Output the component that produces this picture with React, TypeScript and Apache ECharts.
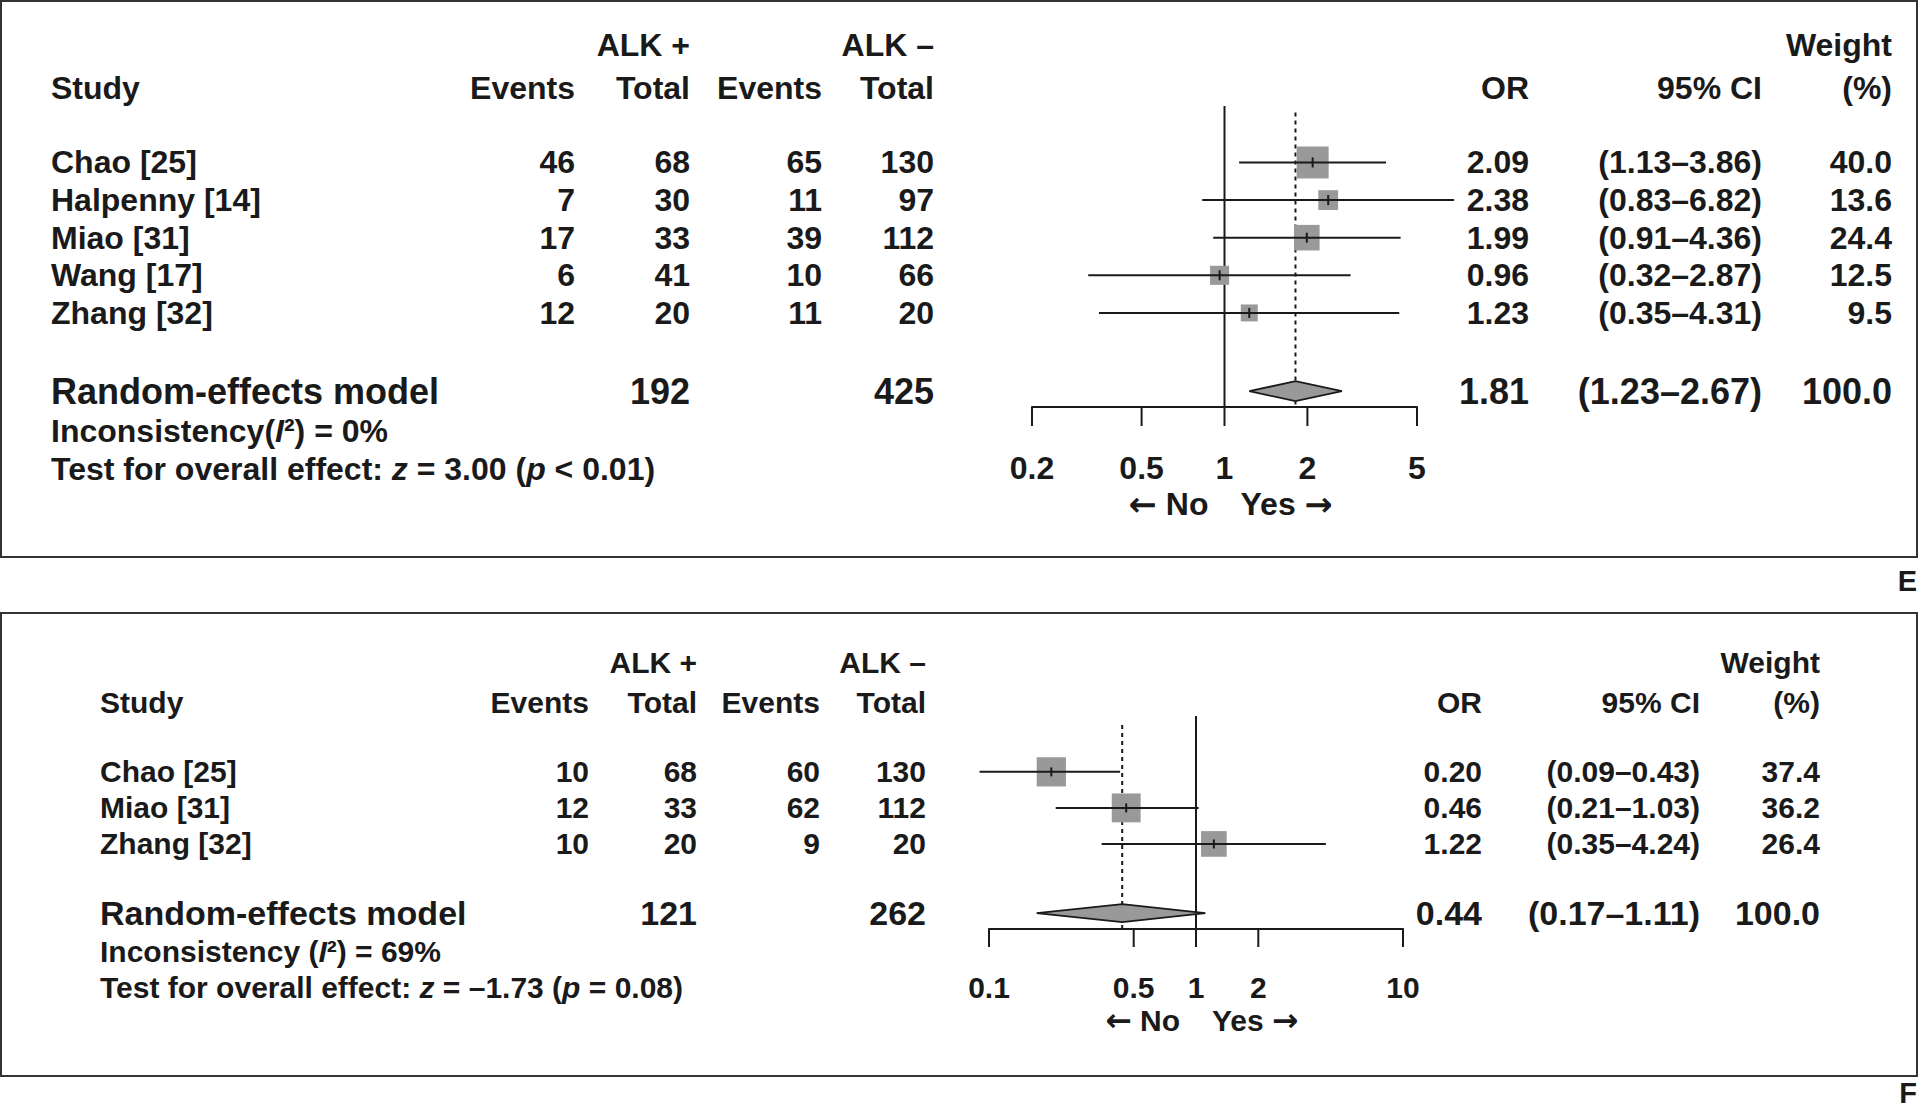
import React, { useEffect, useRef } from 'react';
import * as echarts from 'echarts';

const FONT = "'Liberation Sans', Arial, Helvetica, sans-serif";
const ARROW_FONT = "'DejaVu Sans', 'Liberation Sans', sans-serif";
const INK = '#1a1a1a';
const BOX = '#999999';

// ---------- Panel E data ----------
const studiesE = ['Chao [25]', 'Halpenny [14]', 'Miao [31]', 'Wang [17]', 'Zhang [32]'];
const eventsPosE = [46, 7, 17, 6, 12];
const totalPosE = [68, 30, 33, 41, 20];
const eventsNegE = [65, 11, 39, 10, 11];
const totalNegE = [130, 97, 112, 66, 20];
const orE = [2.09, 2.38, 1.99, 0.96, 1.23];
const loE = [1.13, 0.83, 0.91, 0.32, 0.35];
const hiE = [3.86, 6.82, 4.36, 2.87, 4.31];
const weightE = [40.0, 13.6, 24.4, 12.5, 9.5];
const pooledE = [1.81, 1.23, 2.67]; // OR, lower, upper
const pooledTotalsE = [192, 425];
const ticksE = [0.2, 0.5, 1, 2, 5];

// ---------- Panel F data ----------
const studiesF = ['Chao [25]', 'Miao [31]', 'Zhang [32]'];
const eventsPosF = [10, 12, 10];
const totalPosF = [68, 33, 20];
const eventsNegF = [60, 62, 9];
const totalNegF = [130, 112, 20];
const orF = [0.2, 0.46, 1.22];
const loF = [0.09, 0.21, 0.35];
const hiF = [0.43, 1.03, 4.24];
const weightF = [37.4, 36.2, 26.4];
const pooledF = [0.44, 0.17, 1.11];
const pooledTotalsF = [121, 262];
const ticksF = [0.1, 0.5, 1, 2, 10];

type Layout = {
  grid: { left: number; top: number; width: number; height: number };
  xMin: number; xMax: number; yMin: number; yMax: number;
  modelRow: number; dashTop: number;
  body: number; model: number;
  studyX: number; cols: number[]; orX: number; ciX: number; wX: number;
  boxA: number; boxB: number; tickHalf: number; diamondHalf: number;
  tickLen: number; tickLabelOff: number; dirOff: number; dirGap: number;
};

const layoutE: Layout = {
  grid: { left: 1032, top: 106, width: 385, height: 301 },
  xMin: 0.2, xMax: 5, yMin: -1.5, yMax: 6.5,
  modelRow: 6.08, dashTop: -1.33,
  body: 32, model: 36,
  studyX: 51, cols: [575, 690, 822, 934], orX: 1529, ciX: 1762, wX: 1892,
  boxA: 2.7, boxB: 4.63, tickHalf: 5, diamondHalf: 10,
  tickLen: 19, tickLabelOff: 61, dirOff: 97, dirGap: 16,
};

const layoutF: Layout = {
  grid: { left: 989, top: 716, width: 414, height: 213 },
  xMin: 0.1, xMax: 10, yMin: -1.55, yMax: 4.36,
  modelRow: 3.92, dashTop: -1.3,
  body: 30, model: 34,
  studyX: 100, cols: [589, 697, 820, 926], orX: 1482, ciX: 1700, wX: 1820,
  boxA: 6.8, boxB: 3.67, tickHalf: 4.5, diamondHalf: 9,
  tickLen: 18, tickLabelOff: 58, dirOff: 91, dirGap: 16,
};

const txt = (text: string, x: number, y: number, size: number, align: string) => ({
  type: 'text',
  x,
  y,
  style: {
    text,
    fill: INK,
    fontSize: size,
    fontWeight: 'bold',
    fontFamily: FONT,
    textAlign: align,
    textVerticalAlign: 'middle',
    align,
    verticalAlign: 'middle',
  },
});

const richTxt = (text: string, x: number, y: number, size: number, align = 'left') => {
  const base = { fill: INK, color: INK, fontSize: size, fontWeight: 'bold', fontFamily: FONT };
  return {
    type: 'text',
    x,
    y,
    style: {
      text,
      fill: INK,
      fontSize: size,
      fontWeight: 'bold',
      fontFamily: FONT,
      textAlign: align,
      textVerticalAlign: 'middle',
      align,
      verticalAlign: 'middle',
      rich: {
        n: { ...base },
        i: { ...base, fontStyle: 'italic' },
        a: { ...base, fontFamily: ARROW_FONT, fontSize: size * 1.05 },
      },
    },
  };
};

function panelSeries(
  gi: number,
  L: Layout,
  studies: string[],
  evP: number[],
  totP: number[],
  evN: number[],
  totN: number[],
  or: number[],
  lo: number[],
  hi: number[],
  w: number[],
  pooled: number[],
  totals: number[],
  ticks: number[]
) {
  const common = { xAxisIndex: gi, yAxisIndex: gi, clip: false, silent: true };
  const n = studies.length;
  return [
    // vertical reference line at OR = 1 (solid) and pooled estimate (dashed)
    {
      type: 'custom',
      ...common,
      data: [[1, 0], [pooled[0], 1]],
      renderItem: (params: any, api: any) => {
        const v = api.value(0);
        const dashed = api.value(1) === 1;
        const top = api.coord([v, dashed ? L.dashTop : L.yMin]);
        const bot = api.coord([v, L.yMax]);
        return {
          type: 'line',
          shape: { x1: top[0], y1: top[1], x2: bot[0], y2: bot[1] },
          style: { stroke: INK, lineWidth: 2, lineDash: dashed ? [4, 4] : null },
        };
      },
    },
    // study squares and confidence intervals
    {
      type: 'custom',
      ...common,
      data: or.map((v, i) => [v, i, lo[i], hi[i], w[i]]),
      renderItem: (params: any, api: any) => {
        const row = api.value(1);
        const c = api.coord([api.value(0), row]);
        const pl = api.coord([api.value(2), row]);
        const ph = api.coord([api.value(3), row]);
        const s = L.boxA + L.boxB * Math.sqrt(api.value(4));
        return {
          type: 'group',
          children: [
            { type: 'rect', shape: { x: c[0] - s / 2, y: c[1] - s / 2, width: s, height: s }, style: { fill: BOX } },
            { type: 'line', shape: { x1: pl[0], y1: pl[1], x2: ph[0], y2: ph[1] }, style: { stroke: INK, lineWidth: 2 } },
            {
              type: 'line',
              shape: { x1: c[0], y1: c[1] - L.tickHalf, x2: c[0], y2: c[1] + L.tickHalf },
              style: { stroke: INK, lineWidth: 2 },
            },
          ],
        };
      },
    },
    // pooled diamond
    {
      type: 'custom',
      ...common,
      data: [[pooled[0], L.modelRow, pooled[1], pooled[2]]],
      renderItem: (params: any, api: any) => {
        const row = api.value(1);
        const c = api.coord([api.value(0), row]);
        const pl = api.coord([api.value(2), row]);
        const ph = api.coord([api.value(3), row]);
        const h = L.diamondHalf;
        return {
          type: 'polygon',
          shape: { points: [[pl[0], pl[1]], [c[0], c[1] - h], [ph[0], ph[1]], [c[0], c[1] + h]] },
          style: { fill: BOX, stroke: INK, lineWidth: 1.8, lineJoin: 'miter', miterLimit: 10 },
        };
      },
    },
    // axis ticks and tick labels
    {
      type: 'custom',
      ...common,
      data: ticks.map((v) => [v, L.yMax]),
      renderItem: (params: any, api: any) => {
        const v = api.value(0);
        const p = api.coord([v, api.value(1)]);
        return {
          type: 'group',
          children: [
            { type: 'line', shape: { x1: p[0], y1: p[1], x2: p[0], y2: p[1] + L.tickLen }, style: { stroke: INK, lineWidth: 2 } },
            txt(String(v), p[0], p[1] + L.tickLabelOff, L.body, 'center'),
          ],
        };
      },
    },
    // direction labels around OR = 1
    {
      type: 'custom',
      ...common,
      data: [[1, L.yMax]],
      renderItem: (params: any, api: any) => {
        const p = api.coord([api.value(0), api.value(1)]);
        return {
          type: 'group',
          children: [
            richTxt('{a|\u2190}{n| No}', p[0] - L.dirGap, p[1] + L.dirOff, L.body, 'right'),
            richTxt('{n|Yes }{a|\u2192}', p[0] + L.dirGap, p[1] + L.dirOff, L.body, 'left'),
          ],
        };
      },
    },
    // table text
    {
      type: 'custom',
      ...common,
      data: [...studies.map((_, i) => [1, i]), [1, L.modelRow]],
      renderItem: (params: any, api: any) => {
        const i = params.dataIndex;
        const y = api.coord([1, api.value(1)])[1];
        if (i === n) {
          const fs = L.model;
          return {
            type: 'group',
            children: [
              txt('Random-effects model', L.studyX, y, fs, 'left'),
              txt(String(totals[0]), L.cols[1], y, fs, 'right'),
              txt(String(totals[1]), L.cols[3], y, fs, 'right'),
              txt(pooled[0].toFixed(2), L.orX, y, fs, 'right'),
              txt(`(${pooled[1].toFixed(2)}\u2013${pooled[2].toFixed(2)})`, L.ciX, y, fs, 'right'),
              txt('100.0', L.wX, y, fs, 'right'),
            ],
          };
        }
        const fs = L.body;
        return {
          type: 'group',
          children: [
            txt(studies[i], L.studyX, y, fs, 'left'),
            txt(String(evP[i]), L.cols[0], y, fs, 'right'),
            txt(String(totP[i]), L.cols[1], y, fs, 'right'),
            txt(String(evN[i]), L.cols[2], y, fs, 'right'),
            txt(String(totN[i]), L.cols[3], y, fs, 'right'),
            txt(or[i].toFixed(2), L.orX, y, fs, 'right'),
            txt(`(${lo[i].toFixed(2)}\u2013${hi[i].toFixed(2)})`, L.ciX, y, fs, 'right'),
            txt(w[i].toFixed(1), L.wX, y, fs, 'right'),
          ],
        };
      },
    },
  ];
}

function headerGraphics(L: Layout, yTop: number, yHead: number, yInc: number, yTest: number, inc: string, test: string) {
  const s = L.body;
  return [
    txt('ALK +', L.cols[1], yTop, s, 'right'),
    txt('ALK \u2013', L.cols[3], yTop, s, 'right'),
    txt('Weight', L.wX, yTop, s, 'right'),
    txt('Study', L.studyX, yHead, s, 'left'),
    txt('Events', L.cols[0], yHead, s, 'right'),
    txt('Total', L.cols[1], yHead, s, 'right'),
    txt('Events', L.cols[2], yHead, s, 'right'),
    txt('Total', L.cols[3], yHead, s, 'right'),
    txt('OR', L.orX, yHead, s, 'right'),
    txt('95% CI', L.ciX, yHead, s, 'right'),
    txt('(%)', L.wX, yHead, s, 'right'),
    richTxt(inc, L.studyX, yInc, s),
    richTxt(test, L.studyX, yTest, s),
  ];
}

export default function App() {
  const ref = useRef<HTMLDivElement>(null);
  useEffect(() => {
    if (!ref.current) return;
    const chart = echarts.init(ref.current, null, { renderer: 'svg' });
    const layouts = [layoutE, layoutF];
    const option: any = {
      animation: false,
      backgroundColor: '#ffffff',
      grid: layouts.map((L) => ({ ...L.grid, containLabel: false })),
      xAxis: layouts.map((L, gi) => ({
        type: 'log',
        logBase: 10,
        gridIndex: gi,
        min: L.xMin,
        max: L.xMax,
        position: 'bottom',
        axisLine: { show: true, onZero: false, lineStyle: { color: INK, width: 2 } },
        axisTick: { show: false },
        axisLabel: { show: false },
        splitLine: { show: false },
      })),
      yAxis: layouts.map((L, gi) => ({
        type: 'value',
        gridIndex: gi,
        min: L.yMin,
        max: L.yMax,
        inverse: true,
        show: false,
        splitLine: { show: false },
      })),
      series: [
        ...panelSeries(0, layoutE, studiesE, eventsPosE, totalPosE, eventsNegE, totalNegE, orE, loE, hiE, weightE, pooledE, pooledTotalsE, ticksE),
        ...panelSeries(1, layoutF, studiesF, eventsPosF, totalPosF, eventsNegF, totalNegF, orF, loF, hiF, weightF, pooledF, pooledTotalsF, ticksF),
      ],
      graphic: [
        { type: 'rect', shape: { x: 1, y: 1, width: 1916, height: 556 }, style: { fill: 'none', stroke: '#333333', lineWidth: 2 } },
        { type: 'rect', shape: { x: 1, y: 613, width: 1916, height: 463 }, style: { fill: 'none', stroke: '#333333', lineWidth: 2 } },
        txt('E', 1917, 581, 29, 'right'),
        txt('F', 1917, 1093, 29, 'right'),
        ...headerGraphics(
          layoutE, 45, 88, 431, 469,
          '{n|Inconsistency(}{i|I}{n|\u00b2) = 0%}',
          '{n|Test for overall effect: }{i|z}{n| = 3.00 (}{i|p}{n| < 0.01)}'
        ),
        ...headerGraphics(
          layoutF, 662, 702, 951, 987,
          '{n|Inconsistency (}{i|I}{n|\u00b2) = 69%}',
          '{n|Test for overall effect: }{i|z}{n| = \u20131.73 (}{i|p}{n| = 0.08)}'
        ),
      ],
    };
    chart.setOption(option);
    return () => chart.dispose();
  }, []);
  return (
    <div
      ref={ref}
      style={{ position: 'fixed', left: 0, top: 0, width: 1920, height: 1110, background: '#fff' }}
    />
  );
}
